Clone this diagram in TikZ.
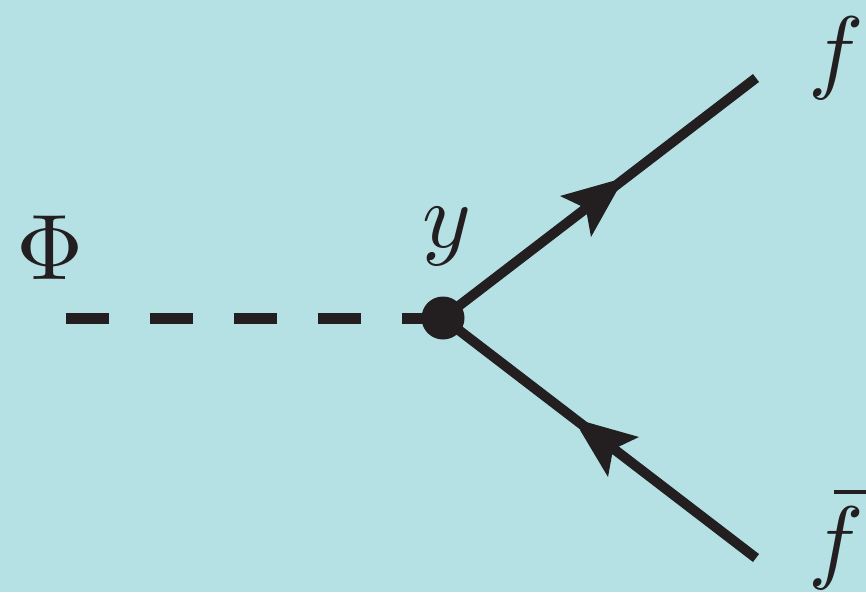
\documentclass[tikz,border=0pt]{standalone}
\usepackage{amsmath}
\definecolor{bgc}{RGB}{181,225,229}
\definecolor{ink}{RGB}{35,31,32}
\tikzset{
 lab/.style={text=ink,inner sep=0pt,scale=9.3},
 fermion/.style={draw=ink,line width=10pt},
 tipfill/.style={fill=ink,draw=none}
}
\begin{document}
\begin{tikzpicture}[x=1pt,y=-1pt]
\useasboundingbox[fill=bgc] (0,0) rectangle (866,592);
\coordinate (start) at (66,318);
\node[circle,fill=ink,minimum size=43pt,inner sep=0pt] (v) at (443,318) {};
\coordinate (ftop) at (756,78);
\coordinate (fbot) at (756,558);
\coordinate (barl) at (834,491.5);
\coordinate (barr) at (866,491.5);
\draw[draw=ink,line width=11pt,dash pattern=on 43pt off 41pt] (start) -- (v.center);
\draw[fermion] (v.center) -- (ftop);
\draw[fermion] (v.center) -- (fbot);
\fill[tipfill] (619,187) -- (613,181) -- (560,196) -- (581,206) -- (587,215) -- (591,237) -- cycle;
\fill[tipfill] (580,430) -- (586,422) -- (639,437) -- (618,447) -- (612,455) -- (608,477) -- cycle;
\node[lab] (phi) at (50.5,247.5) {$\Phi$};
\node[lab] (y) at (446.5,236.5) {$y$};
\node[lab] (f) at (836,58) {$f$};
\node[lab] (fb) at (836,548) {$f$};
\draw[draw=ink,line width=4pt] (barl) -- (barr);
\end{tikzpicture}
\end{document}
